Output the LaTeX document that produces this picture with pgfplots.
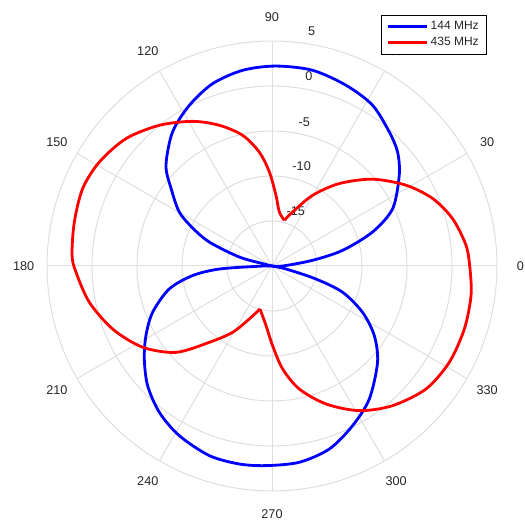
\documentclass[border=0pt]{standalone}
\usepackage{pgfplots}
\usepackage{pgfplotstable}
\pgfplotsset{compat=1.18}
\usepackage{fontspec}
\setmainfont{Liberation Sans}
\definecolor{gridc}{RGB}{222,222,222}
\definecolor{txt}{RGB}{38,38,38}
% 144 MHz, upper lobe (angle in degrees, level in dB)
\pgfplotstableread{
a db
-3 -20
0 -18.8
8.0 -15.44
12.5 -11.96
18.7 -8.2
25.4 -5.16
35.5 -2.63
42.2 -1.16
48.8 -0.21
58.0 1.07
67.7 1.7
78.3 2.21
88.9 2.22
98.5 1.99
108.0 1.31
117.2 0.08
126.6 -1.46
136.5 -3.76
142.5 -5.87
149.8 -8.08
154.4 -10.22
159.1 -12.54
164.6 -16.2
165.7 -18.9
168 -20
}\blueA
% 144 MHz, lower lobe
\pgfplotstableread{
a db
178 -20
181 -18.6
183.3 -14.13
186.9 -11.1
192.6 -8.3
201.2 -5.77
208.9 -4.0
216.1 -2.44
223.9 -0.82
232.4 0.52
241.3 1.48
251.7 2.19
260.6 2.3
268.3 2.19
277.9 2.02
287.4 1.31
296.8 -0.13
306.2 -1.69
317.6 -4.12
325.8 -6.26
332.9 -8.7
339.6 -11.63
343.5 -14.9
347.9 -18.4
352 -20
}\blueB
% 435 MHz, lobe from 254.4 through 0 to 74.9 (angles past 360 continue the turn)
\pgfplotstableread{
a db
254.4 -15.04
264.3 -13.34
270.4 -11.16
275.9 -8.5
282.5 -6.0
291.4 -3.53
301.1 -1.23
310.8 0.5
321.4 1.9
331.5 2.42
341.9 2.49
351.5 2.36
359.25 2.0
366.1 1.68
374.7 0.74
382.8 -0.64
391.1 -2.62
400.8 -5.24
410.8 -8.18
420.1 -10.94
429.1 -13.58
434.9 -14.74
}\redA
% 435 MHz, lobe from 74.9 to 254.4
\pgfplotstableread{
a db
74.9 -14.74
82.3 -13.94
86.8 -12.13
91.6 -9.55
96.4 -7.26
102.7 -5.11
110.5 -3.31
118.8 -1.66
128.7 0.03
138.9 1.53
149 2.4
157.8 2.73
167.5 2.5
176.9 2.25
181.8 1.79
191.2 0.7
201.6 -0.96
212.1 -3.02
222 -5.66
230.6 -9.02
239.3 -11.43
246.8 -13.6
254.4 -15.04
}\redB
\begin{document}
\begin{tikzpicture}
\begin{axis}[
  width=337.5pt, height=337.5pt, scale only axis,
  xmin=-25, xmax=25, ymin=-25, ymax=25,
  hide axis, clip=false,
  legend style={at={(0.742,1.058)}, anchor=north west, draw=black, line width=0.5pt,
    fill=white,
    font=\fontsize{9}{10}\selectfont, text=txt, inner xsep=4pt, inner ysep=2.5pt,
    row sep=0.5pt, cells={anchor=west}},
  legend image code/.code={\draw[#1,sharp plot] (0pt,0pt) -- (29pt,0pt);},
]
\pgfplotsinvokeforeach{5,10,15,20,25}{\draw[gridc, line width=0.75pt] (axis cs:0,0) circle[radius=#1];}
\pgfplotsinvokeforeach{0,30,...,330}{\draw[gridc, line width=0.75pt] (axis cs:0,0) -- (axis cs:{25*cos(#1)},{25*sin(#1)});}
\pgfplotsinvokeforeach{0,30,...,330}{\node[txt, font=\fontsize{9.5}{11}\selectfont] at (axis cs:{27.6*cos(#1)},{27.6*sin(#1)}) {#1};}
\node[txt, font=\fontsize{9.5}{11}\selectfont] at (axis cs:{26.5*cos(80.4)},{26.5*sin(80.4)}) {5};
\node[txt, font=\fontsize{9.5}{11}\selectfont] at (axis cs:{21.5*cos(79)},{21.5*sin(79)}) {0};
\node[txt, font=\fontsize{9.5}{11}\selectfont] at (axis cs:{16.4*cos(77.4)},{16.4*sin(77.4)}) {-5};
\node[txt, font=\fontsize{9.5}{11}\selectfont] at (axis cs:{11.6*cos(73.5)},{11.6*sin(73.5)}) {-10};
\node[txt, font=\fontsize{9.5}{11}\selectfont] at (axis cs:{6.6*cos(66.3)},{6.6*sin(66.3)}) {-15};
\coordinate (c) at (axis cs:0,0);
\addplot[blue, line width=2.1pt, smooth, tension=0.5] table[x expr={(\thisrow{db}+20)*cos(\thisrow{a})}, y expr={(\thisrow{db}+20)*sin(\thisrow{a})}] {\blueA};
\addlegendentry{144 MHz}
\addplot[blue, line width=2.1pt, smooth, tension=0.5, forget plot] table[x expr={(\thisrow{db}+20)*cos(\thisrow{a})}, y expr={(\thisrow{db}+20)*sin(\thisrow{a})}] {\blueB};
\addplot[red, line width=2.1pt, smooth, tension=0.5] table[x expr={(\thisrow{db}+20)*cos(\thisrow{a})}, y expr={(\thisrow{db}+20)*sin(\thisrow{a})}] {\redA};
\addlegendentry{435 MHz}
\addplot[red, line width=2.1pt, smooth, tension=0.5, forget plot] table[x expr={(\thisrow{db}+20)*cos(\thisrow{a})}, y expr={(\thisrow{db}+20)*sin(\thisrow{a})}] {\redB};
\end{axis}
\pgfresetboundingbox
\path ([shift={(-204pt,-193.5pt)}]c) rectangle ([shift={(189.75pt,199.5pt)}]c);
\end{tikzpicture}
\end{document}
